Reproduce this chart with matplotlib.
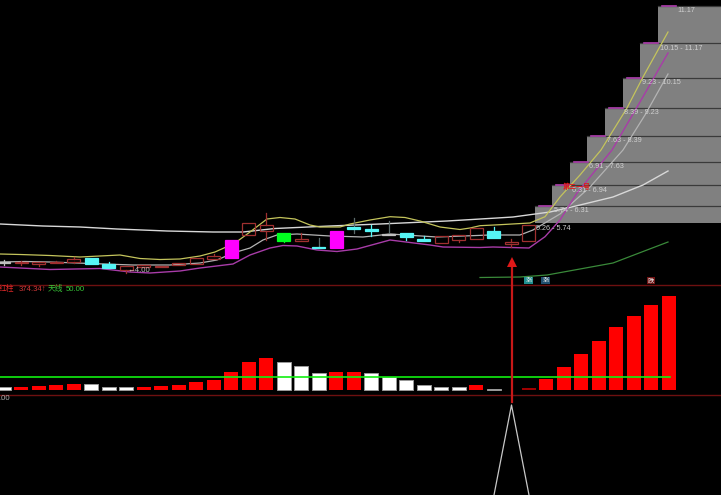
#!/usr/bin/env python3
"""K 线副图截图重绘: 价位阶梯 + 红白柱"""

import matplotlib
matplotlib.use('Agg')
import matplotlib.pyplot as plt
from matplotlib.patches import Rectangle

plt.rcParams['font.family'] = ['Liberation Sans', 'Noto Sans CJK SC', 'DejaVu Sans']

# ---- 数据 (截图上没有坐标轴, 数值按画面读取) ----
step_left = [535, 552, 570, 587, 605, 622.5, 640, 657.5]
step_top = [206, 185, 162, 136, 108, 78, 43, 5.5]
step_labels = ['5.74 - 6.31', '6.31 - 6.94', '6.91 - 7.63', '7.63 - 8.39',
               '8.39 - 9.23', '9.23 - 10.15', '10.15 - 11.17', '11.17']
label_x = [554, 572, 589, 607, 624, 642, 659.5, 677]

upper_x = [0, 20, 50, 80, 100, 120, 140, 160, 180, 200, 215, 235, 250, 267, 280, 295, 310, 320, 340,
           350, 370, 390, 405, 420, 440, 460, 470, 480, 500, 530, 545, 560, 580, 601, 627, 643, 668]
upper_y = [254, 254.5, 255.5, 257, 256, 255, 258.5, 259.5, 259, 256, 252, 243, 232, 219, 217.5, 219, 225, 227, 227,
           224, 220, 216.7, 217.5, 221, 227, 229.5, 228, 225.7, 224.7, 223, 216.7, 197, 175, 150, 108, 77, 32]
lower_x = [0, 50, 100, 130, 150, 180, 200, 233, 250, 270, 283, 297, 317, 337, 357, 390,
           430, 443, 480, 493, 529, 545, 560, 577, 612, 640, 668]
lower_y = [267, 269.5, 268.5, 272, 273, 271, 268, 264, 255, 248, 245.5, 246, 250, 251.5, 249, 240,
           245, 247, 247.5, 247, 248, 236.7, 220, 193, 150, 102, 53]
mid_x = [0, 25, 50, 90, 133, 170, 200, 217, 233, 250, 263, 277, 297, 330, 363, 390, 437, 490, 520, 533,
         560, 590, 623, 645, 668]
mid_y = [262, 261.5, 262, 263.5, 265, 265, 263, 260, 253, 248, 240, 235, 234, 236, 237, 234, 237, 235, 235, 230,
         214, 187, 150, 115, 74]
long_x = [0, 43, 80, 117, 167, 213, 243, 275, 330, 380, 447, 497, 513, 550, 580, 613, 643, 668]
long_y = [224, 226, 227, 229, 231, 232, 232, 228.5, 226, 224, 221, 218, 217, 212, 205, 197, 185, 171]
slow_x = [480, 520, 547, 580, 613, 647, 668]
slow_y = [277.5, 277, 275, 269, 263, 250, 242]

# 每根 K 线: 类型, 实体上沿, 实体下沿, 上影, 下影
candle_kind = ['w', 'r', 'r', 'r', 'r', 'c', 'c', 'r', 'r', 'r', 'r', 'r', 'r', 'm', 'r', 'r', 'g', 'r', 'c', 'm',
               'c', 'c', 'w', 'c', 'c', 'r', 'r', 'r', 'c', 'r', 'r']
candle_top = [262, 262, 262, 261.5, 259, 257.7, 264, 266, 265, 265.5, 263.3, 258.3, 256.3, 239.7, 222.7, 225, 233.3,
              239, 247.3, 231, 226.7, 229.3, 233.5, 233, 239.3, 236, 235, 228.3, 231, 241.7, 225.3]
candle_bot = [263, 263, 264, 262.5, 262, 264, 267.7, 270.3, 267, 266.5, 265.3, 263.7, 259, 257.7, 235.3, 231.3, 241,
              240.7, 248.3, 247.7, 229.3, 231, 234.5, 237.3, 240.5, 242.7, 239.7, 239, 238.3, 244, 240.7]
candle_high = [260, 261, 262, 260.5, 257, 257.7, 262, 266, 265, 265.5, 263.3, 258.3, 254, 239.7, 222.7, 212.7, 233.3,
               232.7, 238, 231, 218.3, 225, 221, 233, 236, 236, 235, 228.3, 227, 239.3, 225.3]
candle_low = [265, 265, 266, 262.5, 263, 264, 267.7, 273, 267, 266.5, 265.3, 263.7, 259, 257.7, 235.3, 240, 242,
              240.7, 248.3, 247.7, 233.3, 235.7, 234.5, 240, 241, 242.7, 242, 239, 238.3, 246.7, 240.7]
dim_wicks = [18, 20, 22]

bar_height = [2.5, 3, 3.5, 4.5, 5.5, 5.2, 2.5, 2.5, 3, 3.5, 4.5, 7.5, 9.5, 17.2, 27.5, 31.5, 27.2, 23.5, 16.5, 17.5,
              17.5, 16.5, 12.8, 9.2, 4.5, 2.5, 2.5, 4.2, 0.5, 0, 1.5, 10.2, 22.2, 35.5, 48.5, 62.5, 73.5, 84.5, 93.5]
bar_kind = ['w', 'r', 'r', 'r', 'r', 'w', 'w', 'w', 'r', 'r', 'r', 'r', 'r', 'r', 'r', 'r', 'w', 'w', 'w', 'r',
            'r', 'w', 'w', 'w', 'w', 'w', 'w', 'r', 'w', 'r', 'd', 'r', 'r', 'r', 'r', 'r', 'r', 'r', 'r']

# ---- 颜色 ----
BAR_FILL = {'r': '#ff0000', 'w': '#ffffff', 'd': '#a00000'}
CANDLE_FILL = {'c': '#55f5f5', 'm': '#ff00ff', 'g': '#00ff20'}
CANDLE_EDGE = {'r': '#a03030', 'c': '#55f5f5', 'm': '#ff00ff', 'g': '#00ff20', 'w': '#c0c0c0'}
LINE_RED = '#6e1010'
FIRST_X = 3.5
STEP_X = 17.5
BAR_W = 14
BASE_Y = 389.5

fig = plt.figure(figsize=(7.21, 4.95), dpi=100, facecolor='black')
ax = fig.add_axes([0, 0, 1, 1])
ax.set_facecolor('black')
ax.set_xlim(0, 721)
ax.set_ylim(495, 0)
ax.axis('off')

# ---- 价位阶梯 ----
for left, top in zip(step_left, step_top):
    ax.add_patch(Rectangle((left, top), 721 - left, 222.7 - top, fc='#808080', ec='none', zorder=1))
for i, (left, top) in enumerate(zip(step_left, step_top)):
    ax.plot([left, 721], [top, top], color='#3a3a3a', lw=0.9, zorder=2)
    ax.plot([left + 4, left + 18], [top, top], color='#b040b0', lw=1.2, zorder=2)
    ax.text(label_x[i], top + 5, step_labels[i], color='#cfcfcf', fontsize=5.2, va='center', zorder=6)
ax.text(536, 228.5, '5.26 - 5.74', color='#cfcfcf', fontsize=5.2, va='center', zorder=6)

# ---- 均线 ----
ax.plot(long_x, long_y, color='#d8d8d8', lw=1.0, zorder=3)
ax.plot(mid_x, mid_y, color='#b4b4b4', lw=0.9, zorder=3)
ax.plot(upper_x, upper_y, color='#c4c45c', lw=0.9, zorder=3)
ax.plot(lower_x, lower_y, color='#a83ca8', lw=1.0, zorder=3)
ax.plot(slow_x, slow_y, color='#3a8a3a', lw=0.9, zorder=3)

# ---- K 线 ----
for i, kind in enumerate(candle_kind):
    x = FIRST_X + STEP_X * i
    edge = CANDLE_EDGE[kind]
    wick = '#5a6a6a' if i in dim_wicks else edge
    ax.plot([x, x], [candle_high[i], candle_top[i]], color=wick, lw=0.9, zorder=4)
    ax.plot([x, x], [candle_bot[i], candle_low[i]], color=wick, lw=0.9, zorder=4)
    face = CANDLE_FILL.get(kind, 'none')
    ax.add_patch(Rectangle((x - BAR_W / 2 + 0.5, candle_top[i]), BAR_W - 1, candle_bot[i] - candle_top[i],
                           fc=face, ec=edge, lw=0.9, zorder=5))

# ---- 红白柱 ----
for i, (h, kind) in enumerate(zip(bar_height, bar_kind)):
    if h <= 0:
        continue
    ax.bar(FIRST_X + STEP_X * i, -h, width=BAR_W, bottom=BASE_Y, color=BAR_FILL[kind],
           edgecolor='#999999' if kind == 'w' else 'none', lw=0.7, zorder=4)
ax.plot([0, 670], [376.5, 376.5], color='#10f010', lw=1.2, zorder=5)

# ---- 分隔线 ----
ax.plot([0, 721], [285, 285], color=LINE_RED, lw=1, zorder=2)
ax.plot([0, 721], [394.5, 394.5], color=LINE_RED, lw=1, zorder=2)

# ---- 箭头和三角 ----
ax.plot([512, 512], [402, 265], color='#c81818', lw=1.6, zorder=7)
ax.fill([507, 517, 512], [267, 267, 257], color='#e01818', lw=0, zorder=7)
ax.plot([494, 511.5, 529], [495, 405, 495], color='#c8c8c8', lw=0.9, zorder=3)

# ---- 文字 ----
ax.text(-1, 289.5, '红柱', color='#e02828', fontsize=5.6, va='center', zorder=6)
ax.text(19, 289.5, '374.34↑', color='#d03838', fontsize=5.6, va='center', zorder=6)
ax.text(48, 289.5, '天线', color='#38c838', fontsize=5.6, va='center', zorder=6)
ax.text(66, 289.5, '50.00', color='#38c838', fontsize=5.6, va='center', zorder=6)
ax.text(127, 270.5, '←4.00', color='#c0c0c0', fontsize=5.6, va='center', zorder=6)
ax.text(-1, 398.5, '.00', color='#b0b0b0', fontsize=5.6, va='center', zorder=6)
ax.text(563, 187, '第三一号', color='#e01818', fontsize=5, fontweight='bold', va='center', zorder=6)

for x, label, box in [(528.5, '涨', '#1f8f8f'), (545.5, '涨', '#1f4f6f'), (651, '跌', '#6f1414')]:
    ax.text(x, 280.5, label, color='#e8e8e8', fontsize=4.6, ha='center', va='center', zorder=6,
            bbox=dict(boxstyle='square,pad=0.2', fc=box, ec='none'))

fig.savefig('out.png', dpi=100, facecolor='black')
plt.close(fig)
